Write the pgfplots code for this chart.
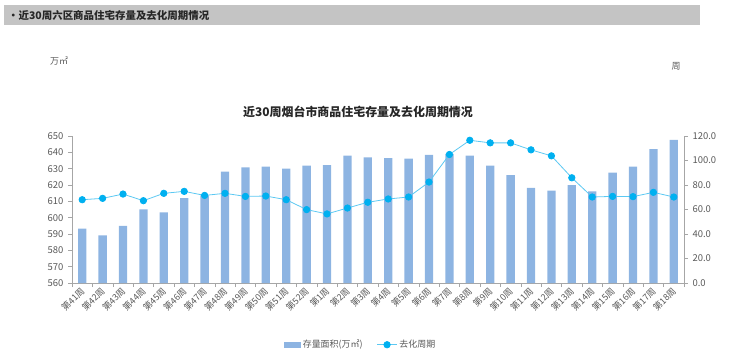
\documentclass[border=0pt]{standalone}
\usepackage{pgfplots}
\pgfplotsset{compat=1.18}
\usepackage{pgfplotstable}
\usepackage{fontspec}
\setmainfont{Noto Sans CJK SC}
\definecolor{barblue}{HTML}{8DB4E2}
\definecolor{linecyan}{HTML}{5CC8F2}
\definecolor{dotcyan}{HTML}{00B0F0}
\definecolor{axgray}{HTML}{A6A6A6}
\definecolor{txtgray}{HTML}{595959}
\definecolor{hdrgray}{HTML}{C4C4C4}
\pgfplotstableread{
x stock cycle
0 593.3 68.0
1 589.2 69.1
2 594.9 72.6
3 605.1 67.2
4 603.3 73.2
5 612.0 74.8
6 613.7 71.5
7 628.2 73.2
8 630.8 70.7
9 631.2 71.0
10 630.0 68.0
11 631.8 59.9
12 632.2 56.4
13 638.0 61.2
14 636.9 65.9
15 636.5 68.6
16 636.1 70.2
17 638.4 82.4
18 639.0 104.9
19 638.0 116.5
20 631.8 114.4
21 626.1 114.4
22 618.2 108.7
23 616.5 103.8
24 620.0 85.9
25 616.1 70.2
26 627.6 70.7
27 631.2 70.5
28 642.0 74.0
29 647.6 70.2
}\datatable
\begin{document}
\begin{tikzpicture}[x=1bp,y=1bp]
\path[use as bounding box] (0,0) rectangle (740,361);
% header
\fill[hdrgray] (4,336) rectangle (700,356);
\node[anchor=west, text=black!85, font=\bfseries\fontsize{10.5}{12}\selectfont, inner sep=0] at (8,346) {•近30周六区商品住宅存量及去化周期情况};
\node[anchor=center, text=txtgray, font=\fontsize{9}{10}\selectfont, inner sep=0] at (59,300) {万㎡};
\node[anchor=center, text=txtgray, font=\fontsize{9}{10}\selectfont, inner sep=0] at (676,295) {周};
\node[anchor=center, text=black!85, font=\bfseries\fontsize{12}{14}\selectfont, inner sep=0] at (358,249) {近30周烟台市商品住宅存量及去化周期情况};
\begin{axis}[
  at={(72bp,78bp)}, anchor=south west,
  scale only axis, width=612bp, height=147bp,
  xmin=-0.5, xmax=29.5, ymin=560, ymax=650,
  axis y line*=left, axis x line*=bottom,
  axis line style={axgray, line width=0.6pt},
  ytick={560,570,...,650},
  /pgf/number format/assume math mode=true,
  yticklabel style={font=\fontsize{9.5}{11}\selectfont, text=txtgray, xshift=-1bp},
  xtick={0,...,29},
  xticklabels={第41周,第42周,第43周,第44周,第45周,第46周,第47周,第48周,第49周,第50周,第51周,第52周,第1周,第2周,第3周,第4周,第5周,第6周,第7周,第8周,第9周,第10周,第11周,第12周,第13周,第14周,第15周,第16周,第17周,第18周},
  xticklabel style={font=\fontsize{9}{10}\selectfont, text=txtgray, rotate=45, anchor=east, inner sep=1bp, yshift=-2bp},
  minor xtick={-0.5,0.5,...,29.5},
  major x tick style={draw=none},
  minor x tick style={axgray, line width=0.6pt},
  minor tick length=4bp,
  major tick length=4bp,
  tick align=outside,
  y tick style={axgray, line width=0.6pt},
  clip=false,
]
\addplot[ybar, bar width=8.3bp, bar shift=0pt, fill=barblue, draw=none] table[x=x, y=stock] {\datatable};
\end{axis}
\begin{axis}[
  at={(72bp,78bp)}, anchor=south west,
  scale only axis, width=612bp, height=147bp,
  xmin=-0.5, xmax=29.5, ymin=0, ymax=120,
  axis y line*=right, axis x line=none,
  axis line style={axgray, line width=0.6pt},
  ytick={0,20,...,120},
  /pgf/number format/assume math mode=true,
  yticklabel={\pgfmathprintnumber[fixed, fixed zerofill, precision=1]{\tick}},
  yticklabel style={font=\fontsize{9.5}{11}\selectfont, text=txtgray, xshift=1bp},
  tick align=outside, major tick length=4bp,
  y tick style={axgray, line width=0.6pt},
  clip=false,
  legend style={at={(0.472,-0.42)}, anchor=center, draw=none, fill=none,
    legend columns=2, font=\fontsize{9}{10}\selectfont, text=txtgray,
    /tikz/every even column/.append style={column sep=12bp}},
]
\addlegendimage{legend image code/.code={\fill[barblue] (0bp,-2.6bp) rectangle (16bp,2.6bp);}}
\addlegendentry{存量面积(万㎡)}
\addplot[linecyan, line width=0.8pt, mark=*, mark size=3.2bp, mark options={fill=dotcyan, draw=dotcyan},
  legend image code/.code={\draw[linecyan, line width=0.8pt] (0bp,0bp) -- (20bp,0bp); \fill[dotcyan] (10bp,0bp) circle (3.2bp);}]
  table[x=x, y=cycle] {\datatable};
\addlegendentry{去化周期}
\end{axis}
\end{tikzpicture}
\end{document}
